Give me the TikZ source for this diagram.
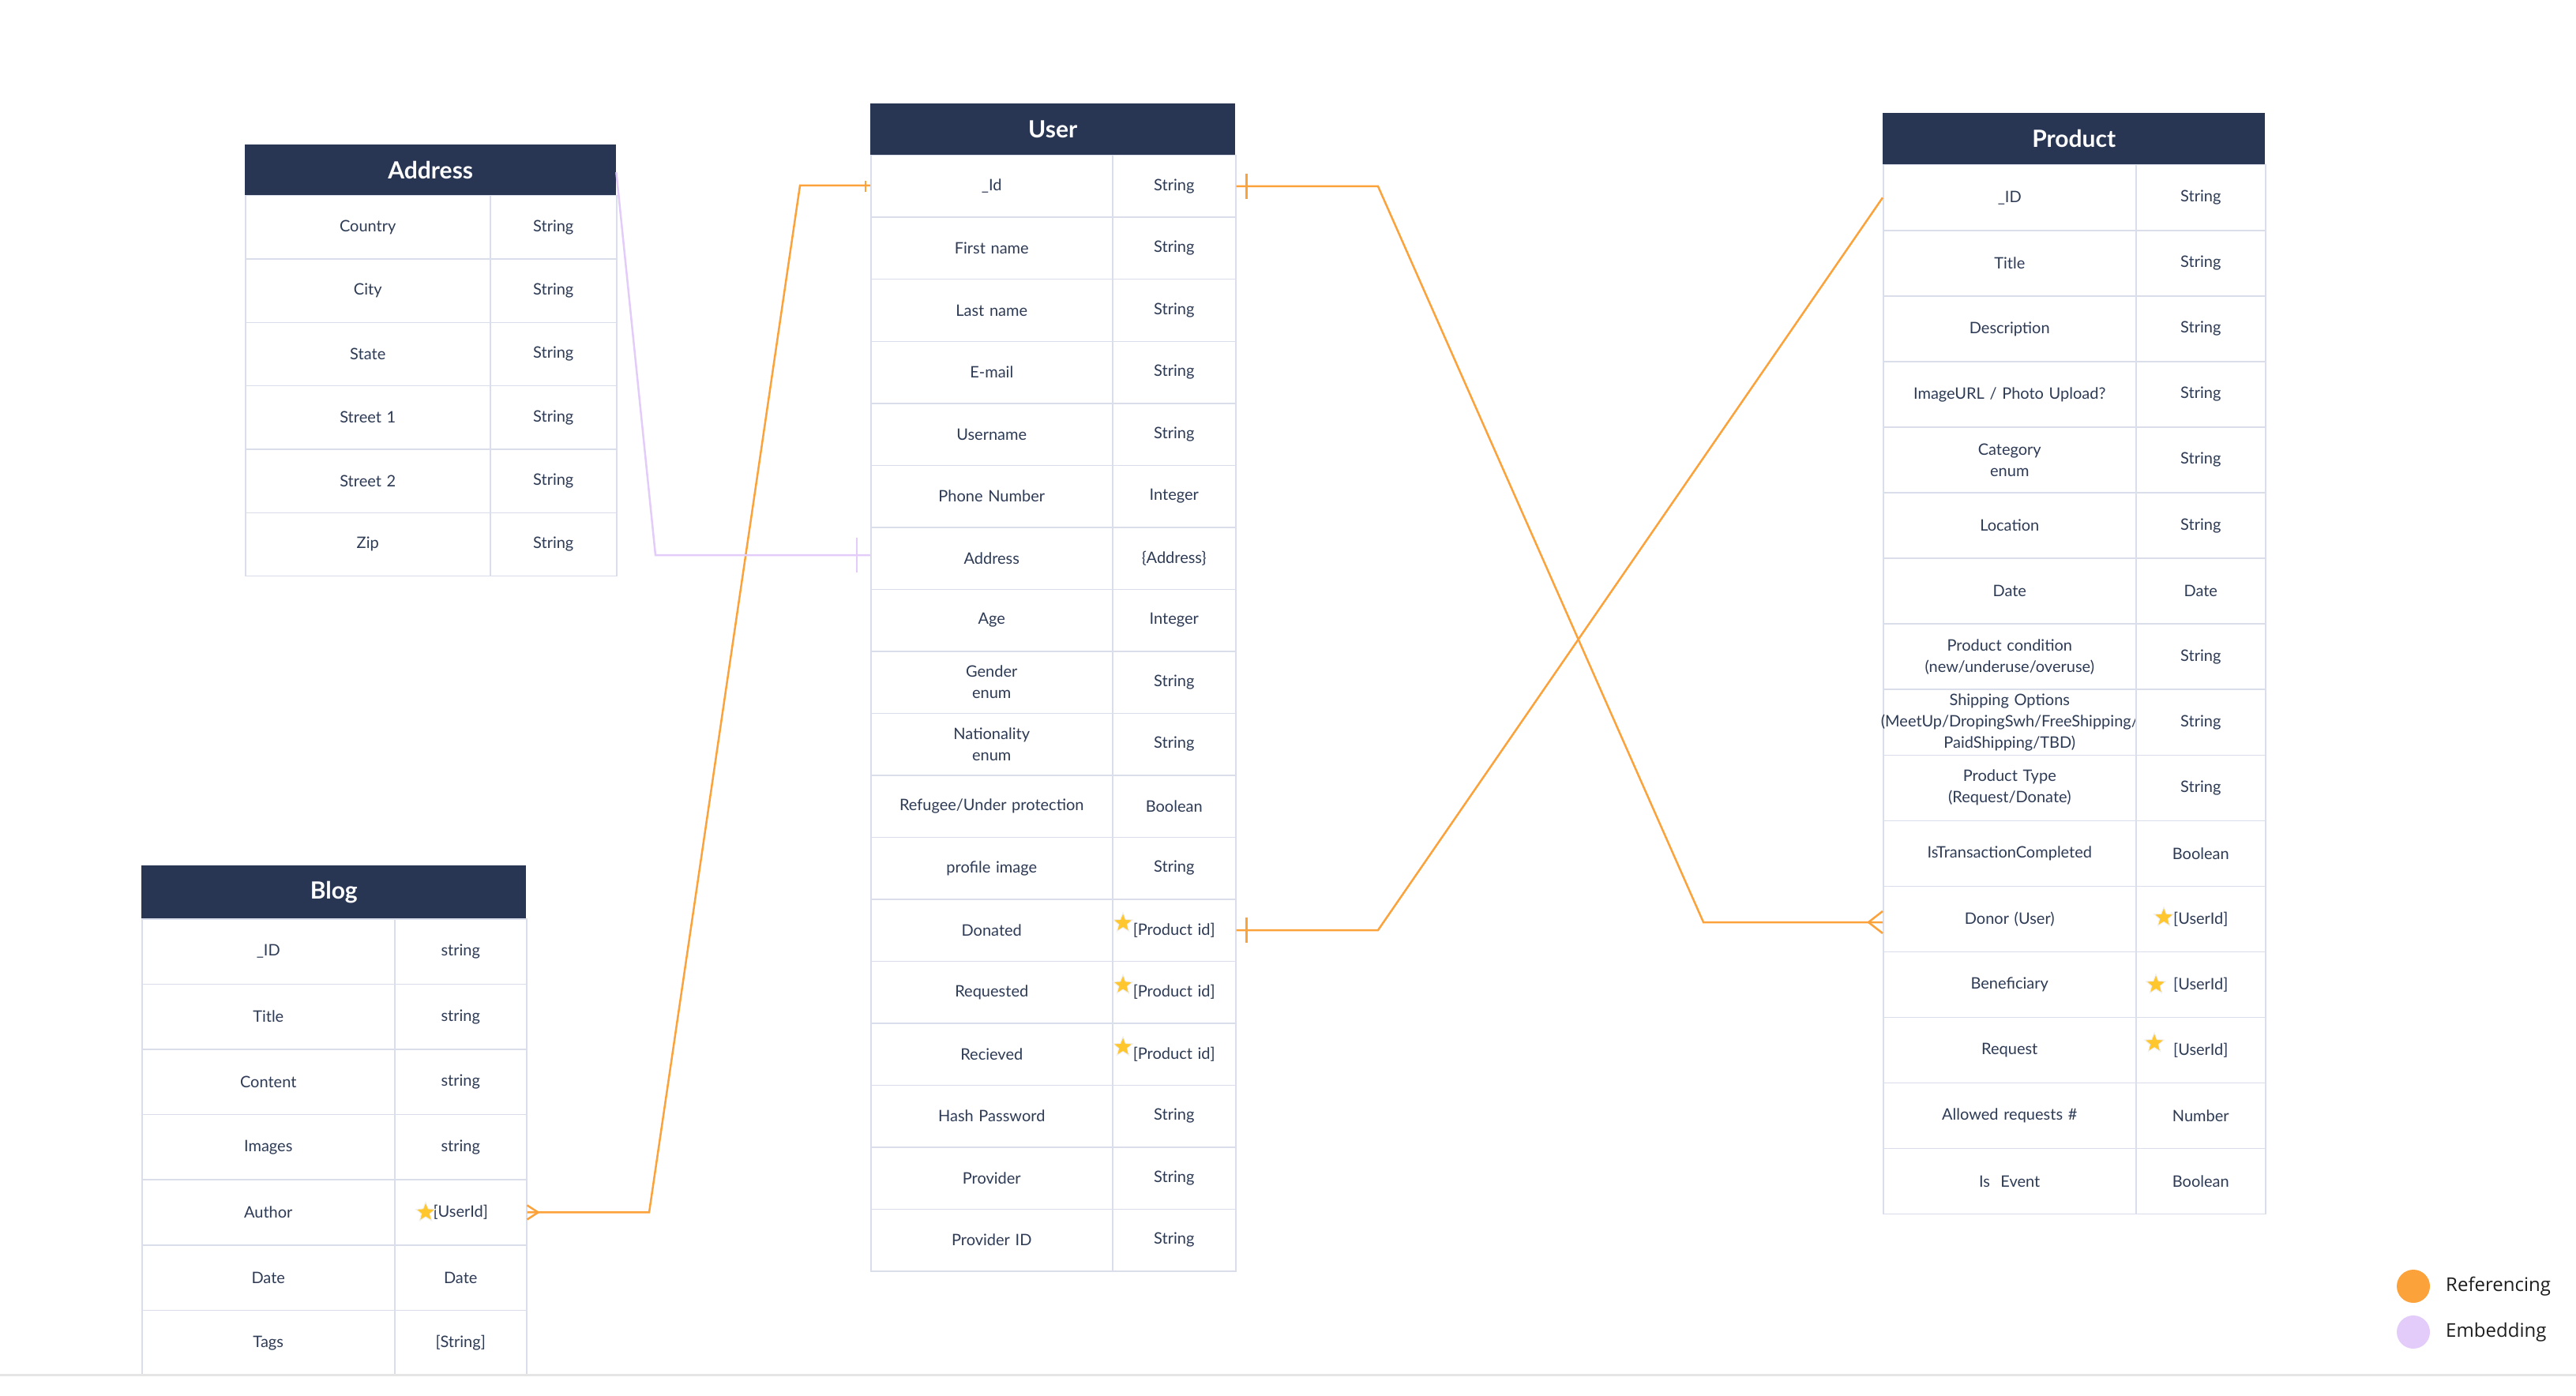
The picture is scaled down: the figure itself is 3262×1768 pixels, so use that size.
\documentclass[tikz,border=0pt]{standalone}
\usepackage{fontspec}
\setmainfont{Lato}
\newfontfamily\legendfont{Open Sans}
\usetikzlibrary{shapes.geometric}
\definecolor{navy}{HTML}{283654}
\definecolor{celltext}{HTML}{2E3B55}
\definecolor{gridc}{HTML}{D9DEEA}
\definecolor{refc}{HTML}{FCA23B}
\definecolor{embc}{HTML}{E3CCFA}
\definecolor{stary}{HTML}{FFC62E}
\definecolor{legtext}{HTML}{1E1E1E}
\newcommand\cellfont{\fontsize{20}{27}\selectfont}
\newcommand\headfont{\fontsize{30}{36}\selectfont\bfseries}
\newcommand\tabgeom[6]{\def\tbL{#1}\def\tbD{#2}\def\tbR{#3}\def\tbH{#4}\def\tbT{#5}\def\tbRH{#6}}
\newcommand\ehead[2]{%
  \pgfmathsetmacro\wH{\tbR-\tbL}\pgfmathsetmacro\hH{\tbT-\tbH}%
  \node[headbox, minimum width=\wH pt, minimum height=\hH pt, anchor=north west] (#1h) at (\tbL,\tbH) {#2};}
\newcommand\erow[4]{%
  \pgfmathsetmacro\ytop{\tbT+#2*\tbRH}%
  \pgfmathsetmacro\wA{\tbD-\tbL}\pgfmathsetmacro\tA{\wA-6}%
  \pgfmathsetmacro\wB{\tbR-\tbD}\pgfmathsetmacro\tB{\wB-6}%
  \node[cell, minimum width=\wA pt, text width=\tA pt, minimum height=\tbRH pt, anchor=north west] (#1#2a) at (\tbL,\ytop) {#3};
  \node[cell, minimum width=\wB pt, text width=\tB pt, minimum height=\tbRH pt, anchor=north west] (#1#2b) at (\tbD,\ytop) {#4};}
\begin{document}
\begin{tikzpicture}[x=1pt,y=-1pt,
  cell/.style={draw=gridc, line width=1.5pt, fill=white, inner sep=0pt, align=center, font=\cellfont, text=celltext},
  headbox/.style={fill=navy, inner sep=0pt, font=\headfont, text=white},
  refline/.style={draw=refc, line width=2.5pt},
  embline/.style={draw=embc, line width=2.5pt},
  starmark/.style={star, star points=5, star point ratio=2.3, minimum size=26pt, inner sep=0pt, fill=stary, draw=white!88!gray, line width=1pt},
  legdot/.style={circle, minimum size=42pt, inner sep=0pt},
  legtxt/.style={anchor=west, inner sep=0pt, font=\legendfont\fontsize{24}{28}\selectfont, text=legtext}]
\fill[white] (0,0) rectangle (3262,1768);
\useasboundingbox (0,0) rectangle (3262,1768);

% Address
\tabgeom{310}{620}{780}{183}{247}{80.3}
\ehead{a}{Address}
\erow{a}{0}{Country}{String}
\erow{a}{1}{City}{String}
\erow{a}{2}{State}{String}
\erow{a}{3}{Street 1}{String}
\erow{a}{4}{Street 2}{String}
\erow{a}{5}{Zip}{String}

% User
\tabgeom{1102}{1408}{1564}{131}{196}{78.5}
\ehead{u}{User}
\erow{u}{0}{\_Id}{String}
\erow{u}{1}{First name}{String}
\erow{u}{2}{Last name}{String}
\erow{u}{3}{E-mail}{String}
\erow{u}{4}{Username}{String}
\erow{u}{5}{Phone Number}{Integer}
\erow{u}{6}{Address}{\{Address\}}
\erow{u}{7}{Age}{Integer}
\erow{u}{8}{Gender\\enum}{String}
\erow{u}{9}{Nationality\\enum}{String}
\erow{u}{10}{Refugee/Under protection}{Boolean}
\erow{u}{11}{profile image}{String}
\erow{u}{12}{Donated}{[Product id]}
\erow{u}{13}{Requested}{[Product id]}
\erow{u}{14}{Recieved}{[Product id]}
\erow{u}{15}{Hash Password}{String}
\erow{u}{16}{Provider}{String}
\erow{u}{17}{Provider ID}{String}

% Blog
\tabgeom{179}{499}{666}{1096}{1163}{82.6}
\ehead{b}{Blog}
\erow{b}{0}{\_ID}{string}
\erow{b}{1}{Title}{string}
\erow{b}{2}{Content}{string}
\erow{b}{3}{Images}{string}
\erow{b}{4}{Author}{[UserId]}
\erow{b}{5}{Date}{Date}
\erow{b}{6}{Tags}{[String]}

% Product
\tabgeom{2384}{2704}{2868}{143}{208}{83.06}
\ehead{p}{Product}
\erow{p}{0}{\_ID}{String}
\erow{p}{1}{Title}{String}
\erow{p}{2}{Description}{String}
\erow{p}{3}{ImageURL / Photo Upload?}{String}
\erow{p}{4}{Category\\enum}{String}
\erow{p}{5}{Location}{String}
\erow{p}{6}{Date}{Date}
\erow{p}{7}{Product condition\\(new/underuse/overuse)}{String}
\erow{p}{8}{Shipping Options\\\makebox[\linewidth]{(MeetUp/DropingSwh/FreeShipping/}\\PaidShipping/TBD)}{String}
\erow{p}{9}{Product Type\\(Request/Donate)}{String}
\erow{p}{10}{IsTransactionCompleted}{Boolean}
\erow{p}{11}{Donor (User)}{[UserId]}
\erow{p}{12}{Beneficiary}{[UserId]}
\erow{p}{13}{Request}{[UserId]}
\erow{p}{14}{Allowed requests \#}{Number}
\erow{p}{15}{Is\ \ Event}{Boolean}

% stars
\node[starmark] (s1) at ([xshift=14pt,yshift=9pt]u12b.west) {};
\node[starmark] (s2) at ([xshift=14pt,yshift=9pt]u13b.west) {};
\node[starmark] (s3) at ([xshift=14pt,yshift=9pt]u14b.west) {};
\node[starmark] (s4) at ([xshift=36pt,yshift=2pt]p11b.west) {};
\node[starmark] (s5) at ([xshift=26pt]p12b.west) {};
\node[starmark] (s6) at ([xshift=24pt,yshift=9pt]p13b.west) {};
\node[starmark] (s7) at ([xshift=40pt]b4b.west) {};

% connector A: User _Id -> Product Donor
\coordinate (cA1) at (1745,235);
\coordinate (cA2) at (2157,1168);
\draw[refline] (u0b.east) -- (u0b.east -| cA1) -- (cA2) -- (cA2 -| p11a.west);
\coordinate (cfP) at (cA2 -| p11a.west);
\draw[refline] ([yshift=14pt]cfP) -- ([xshift=-18pt]cfP) -- ([yshift=-14pt]cfP);
\draw[refline] ([xshift=13pt,yshift=16pt]u0b.east) -- ([xshift=13pt,yshift=-16pt]u0b.east);

% connector B: User Donated -> Product _ID
\coordinate (cB1) at (1745,1177);
\draw[refline] (u12b.east) -- (u12b.east -| cB1) -- (p0a.west);
\draw[refline] ([xshift=13pt,yshift=16pt]u12b.east) -- ([xshift=13pt,yshift=-16pt]u12b.east);

% connector C: Blog Author -> User _Id
\coordinate (cC1) at (822,1534);
\coordinate (cC2) at (1013,235);
\draw[refline] (b4b.east) -- (b4b.east -| cC1) -- (cC2) -- (cC2 -| u0a.west);
\draw[refline] ([yshift=9pt]b4b.east) -- ([xshift=14pt]b4b.east) -- ([yshift=-9pt]b4b.east);
\draw[refline] ([xshift=-6pt,yshift=7pt]u0a.west) -- ([xshift=-6pt,yshift=-7pt]u0a.west);

% connector D: Address embedded in User
\coordinate (cD1) at (830,703);
\coordinate (cD2) at (cD1 -| u6a.west);
\draw[embline] ([yshift=-3pt]ah.east) -- (cD1) -- (cD2);
\draw[embline] ([xshift=-17pt,yshift=22pt]cD2) -- ([xshift=-17pt,yshift=-22pt]cD2);

% bottom edge
\draw[draw=black!10, line width=3pt] (0,1741) -- (3262,1741);

% legend
\node[legdot, fill=refc] (lg1) at (3056,1629) {};
\node[legtxt] (lg1t) at (3097,1629) {Referencing};
\node[legdot, fill=embc] (lg2) at (3056,1687) {};
\node[legtxt] (lg2t) at (3097,1687) {Embedding};
\end{tikzpicture}
\end{document}
